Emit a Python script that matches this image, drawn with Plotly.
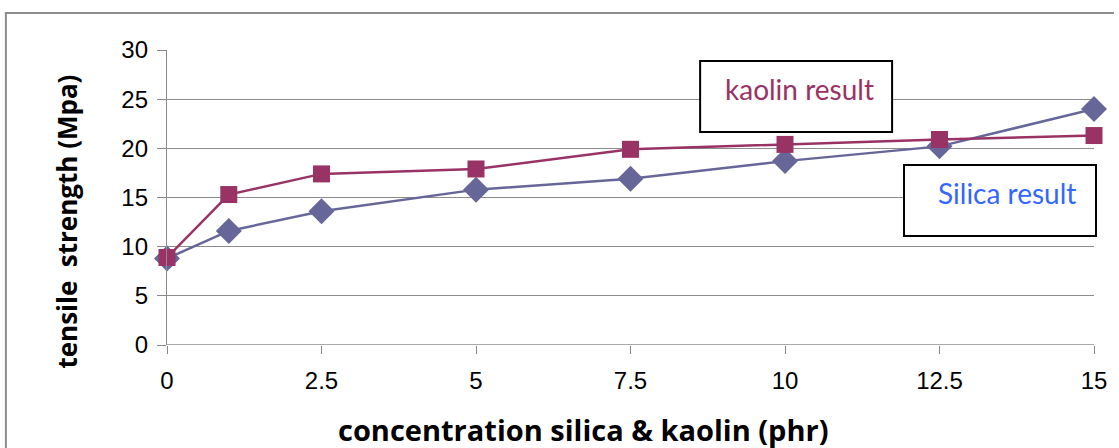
import plotly.graph_objects as go

conc = [0, 1, 2.5, 5, 7.5, 10, 12.5, 15]
kaolin = [8.9, 15.3, 17.4, 17.9, 19.9, 20.4, 20.9, 21.3]
silica = [8.8, 11.6, 13.6, 15.8, 16.9, 18.7, 20.2, 24.0]
x_ticks = [0, 2.5, 5, 7.5, 10, 12.5, 15]
y_ticks = [0, 5, 10, 15, 20, 25, 30]

W, H = 1119, 448
L, T = 167, 50
pw, ph = 932, 295
R = W - L - pw
B = H - T - ph

def px(x):
    return (x - L) / pw

def py(y):
    return (T + ph - y) / ph

fig = go.Figure()
fig.add_trace(go.Scatter(x=conc, y=silica, mode="lines+markers", name="Silica result",
                         line=dict(color="#666699", width=2.5),
                         marker=dict(symbol="diamond", size=20, color="#666699"),
                         cliponaxis=False))
fig.add_trace(go.Scatter(x=conc, y=kaolin, mode="lines+markers", name="kaolin result",
                         line=dict(color="#993366", width=2.5),
                         marker=dict(symbol="square", size=17, color="#993366"),
                         cliponaxis=False))

fig.update_layout(
    width=W, height=H, autosize=False,
    margin=dict(l=L, r=R, t=T, b=B),
    paper_bgcolor="white", plot_bgcolor="white",
    showlegend=False,
    xaxis=dict(range=[0, 15], tickvals=x_ticks, ticktext=[str(v) for v in x_ticks],
               showgrid=False, zeroline=False, showline=False,
               ticks="outside", ticklen=8, tickcolor="#888888", ticklabelstandoff=6,
               tickfont=dict(family="Liberation Sans, Arial", size=24, color="black")),
    yaxis=dict(range=[0, 30], tickvals=y_ticks,
               showgrid=True, gridcolor="#8c8c8c", gridwidth=1.3,
               zeroline=False, showline=True, linecolor="#8c8c8c", linewidth=1.3,
               ticks="outside", ticklen=9, tickcolor="#888888", ticklabelstandoff=4,
               tickfont=dict(family="Liberation Sans, Arial", size=24, color="black")),
)

shapes = [
    # outer frame
    dict(type="line", xref="paper", yref="paper", x0=px(4), x1=px(W), y0=py(13), y1=py(13),
         line=dict(color="#8c8c8c", width=2)),
    dict(type="line", xref="paper", yref="paper", x0=px(5), x1=px(5), y0=py(13), y1=py(H),
         line=dict(color="#8c8c8c", width=2)),
    # x axis baseline
    dict(type="line", xref="paper", yref="y", x0=0, x1=1, y0=0, y1=0,
         line=dict(color="#8c8c8c", width=1.5)),
    # annotation boxes
    dict(type="rect", xref="paper", yref="paper", x0=px(703), x1=px(896), y0=py(132), y1=py(61),
         line=dict(color="black", width=2), fillcolor="white", layer="above"),
    dict(type="rect", xref="paper", yref="paper", x0=px(908), x1=px(1101), y0=py(236), y1=py(165),
         line=dict(color="black", width=2), fillcolor="white", layer="above"),
]
fig.update_layout(shapes=shapes)

fig.add_annotation(xref="paper", yref="paper", x=px(803), y=py(89), text="kaolin result",
                   xanchor="center", yanchor="middle",
                   showarrow=False, font=dict(family="Lato", size=28, color="#993366"))
fig.add_annotation(xref="paper", yref="paper", x=px(1012), y=py(193), text="Silica result",
                   xanchor="center", yanchor="middle",
                   showarrow=False, font=dict(family="Lato", size=28, color="#3366ff"))
fig.add_annotation(xref="paper", yref="paper", x=px(585), y=py(429),
                   text="<b>concentration silica & kaolin (phr)</b>",
                   xanchor="center", yanchor="middle",
                   showarrow=False, font=dict(family="Open Sans", size=29, color="black"))
fig.add_annotation(xref="paper", yref="paper", x=px(66), y=py(222),
                   text="<b>tensile  strength (Mpa)</b>", textangle=-90,
                   xanchor="center", yanchor="middle",
                   showarrow=False, font=dict(family="Open Sans", size=26, color="black"))

fig.write_html(
    "out.html",
    config={"displayModeBar": False, "responsive": False},
    post_script="document.body.style.margin='0px';"
                "document.body.style.overflow='hidden';"
                "document.documentElement.style.overflow='hidden';",
)
